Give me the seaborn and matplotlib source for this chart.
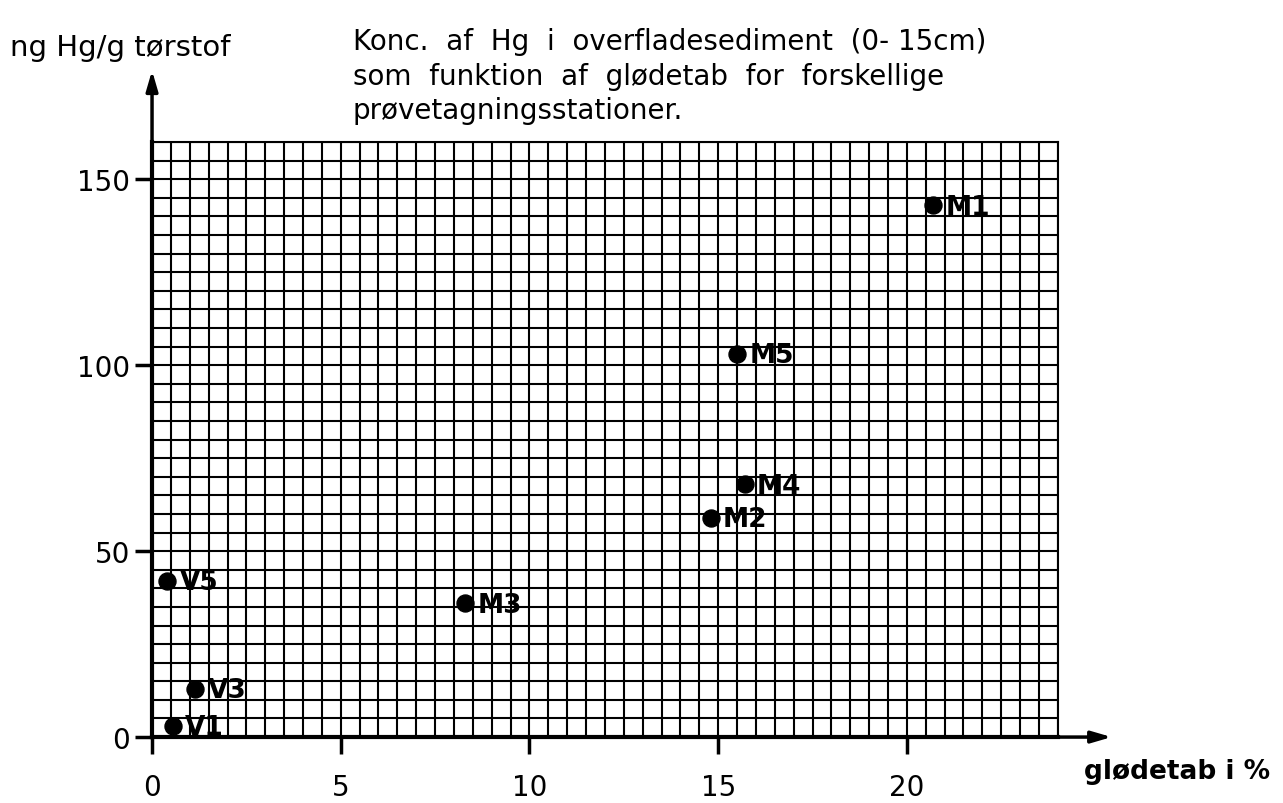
import matplotlib
matplotlib.use("Agg")
import matplotlib.pyplot as plt
from matplotlib.ticker import MultipleLocator
import seaborn as sns
import pandas as pd

# stations
stations = ['M1', 'M5', 'M4', 'M2', 'M3', 'V5', 'V3', 'V1']
glodetab = [20.7, 15.5, 15.7, 14.8, 8.3, 0.4, 1.15, 0.55]   # %
hg_conc = [143, 103, 68, 59, 36, 42, 13, 3]                  # ng Hg/g torstof
x_ticks = [0, 5, 10, 15, 20]
y_ticks = [0, 50, 100, 150]

df = pd.DataFrame({'station': stations, 'glodetab': glodetab, 'hg': hg_conc})

sns.set_style('white')
plt.rcParams['font.family'] = ['DejaVu Sans']
plt.rcParams['text.color'] = 'black'
plt.rcParams['xtick.color'] = 'black'
plt.rcParams['ytick.color'] = 'black'

fig = plt.figure(figsize=(12.83, 8.04), dpi=100)
ax = fig.add_axes([0.1185, 0.082, 0.706, 0.74])

# graph paper
ax.set_xlim(0, 24)
ax.set_ylim(0, 160)
ax.xaxis.set_minor_locator(MultipleLocator(0.5))
ax.yaxis.set_minor_locator(MultipleLocator(5))
ax.grid(which='minor', color='black', lw=1.5)
ax.grid(which='major', color='black', lw=1.5)
ax.set_axisbelow(True)

sns.scatterplot(data=df, x='glodetab', y='hg', color='black', s=150,
                edgecolor='black', ax=ax, zorder=5, clip_on=False)
for st, xv, yv in zip(stations, glodetab, hg_conc):
    ax.annotate(st, (xv, yv), xytext=(9, -1), textcoords='offset points',
                fontsize=19, fontweight='bold', va='center', ha='left',
                color='black')

ax.set_xticks(x_ticks)
ax.set_yticks(y_ticks)
ax.set_xticklabels([str(v) for v in x_ticks], fontsize=20)
ax.set_yticklabels([str(v) for v in y_ticks], fontsize=20)
ax.tick_params(axis='both', which='major', length=12, width=2.5,
               direction='out', pad=4, bottom=True, left=True,
               labelcolor='black')
ax.tick_params(axis='x', which='major', pad=14)
ax.tick_params(axis='both', which='minor', length=0)
ax.set_xlabel('')
ax.set_ylabel('')

for side in ['top', 'right']:
    ax.spines[side].set_linewidth(1.5)
    ax.spines[side].set_color('black')
for side in ['left', 'bottom']:
    ax.spines[side].set_linewidth(3)
    ax.spines[side].set_color('black')

# axis arrows
ax.annotate('', xy=(0, 180), xytext=(0, 159), annotation_clip=False,
            arrowprops=dict(arrowstyle='-|>,head_width=0.35,head_length=1.2',
                            color='black', lw=2.5))
ax.annotate('', xy=(25.5, 0), xytext=(23.9, 0), annotation_clip=False,
            arrowprops=dict(arrowstyle='-|>,head_width=0.35,head_length=1.2',
                            color='black', lw=2.5))

fig.text(0.008, 0.94, 'ng Hg/g tørstof', fontsize=21, ha='left', va='center')
fig.text(0.275, 0.965, 'Konc.  af  Hg  i  overfladesediment  (0- 15cm)\n'
         'som  funktion  af  glødetab  for  forskellige\n'
         'prøvetagningsstationer.',
         fontsize=20, ha='left', va='top', linespacing=1.3)
fig.text(0.99, 0.04, 'glødetab i %', fontsize=19, fontweight='bold',
         ha='right', va='center')

fig.savefig('out.png', dpi=100)
